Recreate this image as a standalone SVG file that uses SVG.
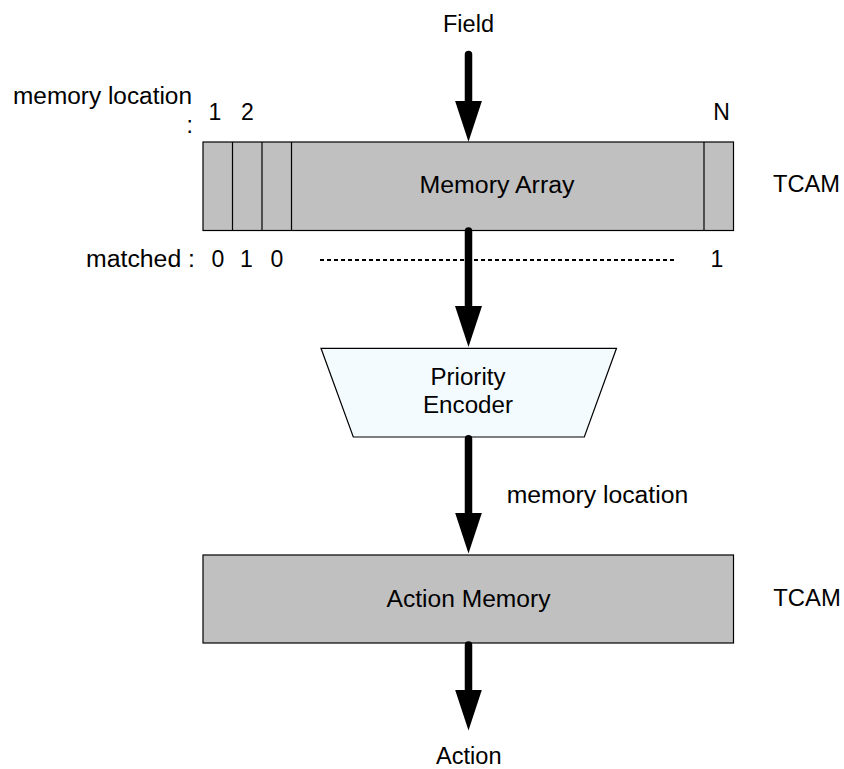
<svg xmlns="http://www.w3.org/2000/svg" width="844" height="769" viewBox="0 0 844 769">
<defs>
<style>
text{font-family:"Liberation Sans",Arial,Helvetica,sans-serif;font-size:23px;fill:#000}
.mid{text-anchor:middle}
.end{text-anchor:end}
.box{fill:#c0c0c0;stroke:#000;stroke-width:1.2}
.div{stroke:#000;stroke-width:1.2}
.pe{fill:#f4fbff;stroke:#000;stroke-width:1.2}
.shaft{fill:none;stroke:#000;stroke-width:7.5;stroke-linecap:round;marker-end:url(#head)}
.dash{stroke:#000;stroke-width:2;stroke-dasharray:4 3}
</style>
<marker id="head" markerUnits="userSpaceOnUse" viewBox="0 0 41 27" refX="2" refY="13.5" markerWidth="41" markerHeight="27" orient="auto">
<path d="M0,0 L41,13.5 L0,27 Z" fill="#000"/>
</marker>
</defs>
<rect width="844" height="769" fill="#fff"/>

<g id="field-label">
<text class="mid" x="468.5" y="31.7" textLength="51" lengthAdjust="spacingAndGlyphs">Field</text>
</g>

<g id="memory-location-labels">
<text class="end" x="192" y="104" textLength="179" lengthAdjust="spacingAndGlyphs">memory location</text>
<text class="end" x="193" y="133">:</text>
<text class="mid" x="215" y="120">1</text>
<text class="mid" x="247.5" y="120">2</text>
<text class="mid" x="721.5" y="120">N</text>
</g>

<g id="memory-array">
<rect class="box" x="203" y="142" width="530.5" height="88.5"/>
<line class="div" x1="232.5" y1="142" x2="232.5" y2="230.5"/>
<line class="div" x1="262" y1="142" x2="262" y2="230.5"/>
<line class="div" x1="291.5" y1="142" x2="291.5" y2="230.5"/>
<line class="div" x1="704" y1="142" x2="704" y2="230.5"/>
<text class="mid" x="497" y="193.3" textLength="155" lengthAdjust="spacingAndGlyphs">Memory Array</text>
</g>

<g id="tcam-1">
<text x="773" y="191.7" textLength="67" lengthAdjust="spacingAndGlyphs">TCAM</text>
</g>

<g id="matched-labels">
<text class="end" x="195" y="266.7" textLength="109" lengthAdjust="spacingAndGlyphs">matched :</text>
<text class="mid" x="218" y="266.7">0</text>
<text class="mid" x="246.5" y="266.7">1</text>
<text class="mid" x="277" y="266.7">0</text>
<text class="mid" x="717" y="266.7">1</text>
<line class="dash" x1="320" y1="260" x2="675" y2="260"/>
</g>

<g id="priority-encoder">
<polygon class="pe" points="321,348.3 616.5,348.3 584.3,437 353.3,437"/>
<text class="mid" x="468" y="385" textLength="75" lengthAdjust="spacingAndGlyphs">Priority</text>
<text class="mid" x="468" y="413.3" textLength="90" lengthAdjust="spacingAndGlyphs">Encoder</text>
</g>

<g id="memory-location-2">
<text x="506.7" y="503.3" textLength="181.5" lengthAdjust="spacingAndGlyphs">memory location</text>
</g>

<g id="action-memory">
<rect class="box" x="203" y="555" width="530.5" height="88"/>
<text class="mid" x="468.5" y="606.7" textLength="164" lengthAdjust="spacingAndGlyphs">Action Memory</text>
</g>

<g id="tcam-2">
<text x="773.3" y="606" textLength="67.5" lengthAdjust="spacingAndGlyphs">TCAM</text>
</g>

<g id="action-label">
<text class="mid" x="468.8" y="763.5" textLength="65.5" lengthAdjust="spacingAndGlyphs">Action</text>
</g>

<g id="connectors">
<path class="shaft" d="M468.5,54.5 L468.5,102.7"/>
<path class="shaft" d="M468.5,231 L468.5,308"/>
<path class="shaft" d="M468.5,438.7 L468.5,514.5"/>
<path class="shaft" d="M468.5,645 L468.5,691.5"/>
</g>
</svg>
